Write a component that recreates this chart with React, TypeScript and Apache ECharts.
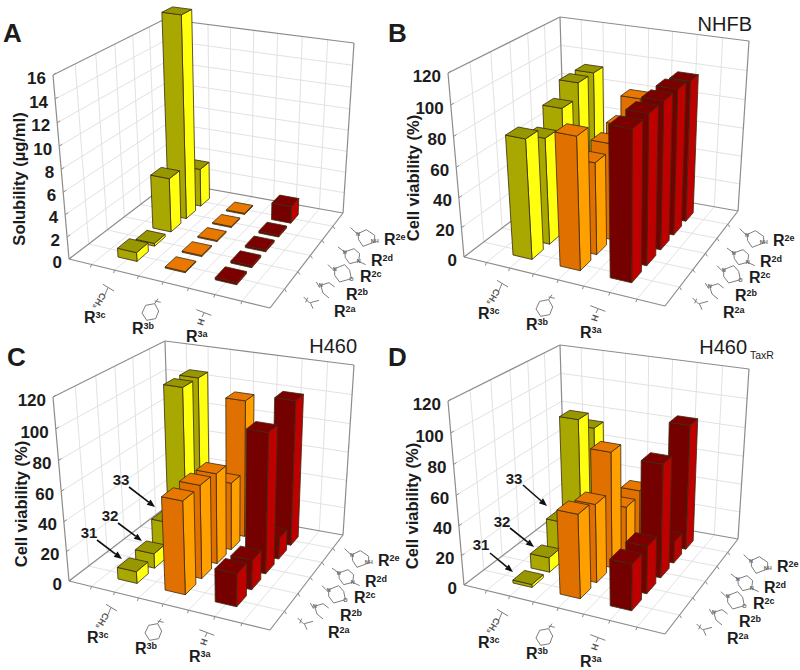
import React, { useEffect, useRef } from "react";
import * as echarts from "echarts";

const r2Categories = ["a", "b", "c", "d", "e"];
const r3Categories = ["3c", "3b", "3a"];
const solubilityTicks = [0, 2, 4, 6, 8, 10, 12, 14, 16];
const viabilityTicks = [0, 20, 40, 60, 80, 100, 120];

const solubilityR3c = [0.8, 0.25, 5, 18.7, 3.6];
const solubilityR3b = [0.1, 0.1, 0.1, 0.1, 0.1];
const solubilityR3a = [0.2, 0.2, 0.2, 0.2, 1.6];

const nhfbR3c = [80, 72, 84, 94, 94];
const nhfbR3b = [88, 62, 66, 70, 81];
const nhfbR3a = [99, 100, 100, 100, 98];

const h460R3c = [8, 10, 22, 107, 107];
const h460R3b = [62, 63, 62, 47, 96];
const h460R3a = [22, 20, 95, 15, 101];

const taxrR3c = [2, 10, 25, 88, 75];
const taxrR3b = [56, 53, 79, 33, 36];
const taxrR3a = [31, 32, 77, 15, 87];

type P = [number, number];
const FONT = "Liberation Sans";
const PALETTE = [
  { front: "#A8A800", side: "#FFFF10", top: "#979700" },
  { front: "#E07000", side: "#FF9F00", top: "#E87800" },
  { front: "#750000", side: "#BE0000", top: "#7C0000" },
];

function homography(p0: P, p1: P, p2: P, p3: P) {
  const sx = p0[0] - p1[0] + p2[0] - p3[0];
  const sy = p0[1] - p1[1] + p2[1] - p3[1];
  const dx1 = p1[0] - p2[0], dx2 = p3[0] - p2[0];
  const dy1 = p1[1] - p2[1], dy2 = p3[1] - p2[1];
  const den = dx1 * dy2 - dx2 * dy1;
  const g = (sx * dy2 - dx2 * sy) / den;
  const h = (dx1 * sy - sx * dy1) / den;
  const a = p1[0] - p0[0] + g * p1[0], b = p3[0] - p0[0] + h * p3[0], c = p0[0];
  const d = p1[1] - p0[1] + g * p1[1], e = p3[1] - p0[1] + h * p3[1], f = p0[1];
  return (u: number, v: number): P => {
    const w = g * u + h * v + 1;
    return [(a * u + b * v + c) / w, (d * u + e * v + f) / w];
  };
}

const floorQuad: P[] = [[69, 259], [270, 308], [343, 213], [170, 182]];
const topQuad: P[] = [[53, 75], [275, 115], [354, 43], [165, 19]];
const U_MAX = 4, V_MAX = 6;

function makeProjector(ox: number, oy: number, yMax: number) {
  const shift = (q: P[]) => q.map((p) => [p[0] + ox, p[1] + oy] as P);
  const f = shift(floorQuad), t = shift(topQuad);
  const hf = homography(f[0], f[1], f[2], f[3]);
  const ht = homography(t[0], t[1], t[2], t[3]);
  const k = 0.95;
  return (u: number, v: number, y: number): P => {
    const a = hf(u / U_MAX, v / V_MAX), b = ht(u / U_MAX, v / V_MAX);
    const r = y / yMax;
    const s = (r * k) / (1 + (k - 1) * r);
    return [a[0] + (b[0] - a[0]) * s, a[1] + (b[1] - a[1]) * s];
  };
}

const GRID = "#e2e2e2", FRAME = "#8c8c8c";

function frameSeries(pr: ReturnType<typeof makeProjector>, ticks: number[]) {
  const yMax = ticks[ticks.length - 1];
  const ln = (a: P, b: P, stroke: string, w: number) => ({
    type: "line",
    shape: { x1: a[0], y1: a[1], x2: b[0], y2: b[1] },
    style: { stroke, lineWidth: w },
    silent: true,
  });
  return {
    type: "custom",
    coordinateSystem: "none",
    silent: true,
    data: [[0]],
    renderItem: () => {
      const ch: any[] = [];
      ticks.forEach((y) => {
        if (y === 0 || y === yMax) return;
        ch.push(ln(pr(0, 0, y), pr(0, V_MAX, y), GRID, 1));
        ch.push(ln(pr(0, V_MAX, y), pr(U_MAX, V_MAX, y), GRID, 1));
      });
      for (let v = 1; v < V_MAX; v++) {
        ch.push(ln(pr(0, v, 0), pr(0, v, yMax), GRID, 1));
        ch.push(ln(pr(0, v, 0), pr(U_MAX, v, 0), GRID, 1));
        const a = pr(U_MAX, v, 0);
        ch.push(ln(a, [a[0] + 2, a[1] + 3], FRAME, 1));
      }
      for (let u = 0.5; u < U_MAX; u += 0.5) {
        ch.push(ln(pr(u, V_MAX, 0), pr(u, V_MAX, yMax), GRID, 1));
        ch.push(ln(pr(u, 0, 0), pr(u, V_MAX, 0), GRID, 1));
        const a = pr(u, 0, 0);
        ch.push(ln(a, [a[0] - 1, a[1] + 3], FRAME, 1));
      }
      ticks.forEach((y) => {
        const a = pr(0, 0, y);
        ch.push(ln(a, [a[0] + 3, a[1] - 2], FRAME, 1));
      });
      const edges: [number, number, number, number, number, number][] = [
        [0, 0, 0, U_MAX, 0, 0],
        [U_MAX, 0, 0, U_MAX, V_MAX, 0],
        [U_MAX, V_MAX, 0, 0, V_MAX, 0],
        [0, V_MAX, 0, 0, 0, 0],
        [0, 0, 0, 0, 0, yMax],
        [0, V_MAX, 0, 0, V_MAX, yMax],
        [U_MAX, V_MAX, 0, U_MAX, V_MAX, yMax],
        [0, 0, yMax, 0, V_MAX, yMax],
        [0, V_MAX, yMax, U_MAX, V_MAX, yMax],
      ];
      edges.forEach((e) => ch.push(ln(pr(e[0], e[1], e[2]), pr(e[3], e[4], e[5]), FRAME, 1.2)));
      return { type: "group", children: ch };
    },
  };
}

function barSeries(pr: ReturnType<typeof makeProjector>, rows: number[][]) {
  const data: number[][] = [];
  rows.forEach((row, i) => {
    for (let j = row.length - 1; j >= 0; j--) data.push([i + 1, j + 1, row[j], i]);
  });
  const du = 0.205, dv = 0.32;
  return {
    type: "custom",
    coordinateSystem: "none",
    silent: true,
    data,
    renderItem: (_: any, api: any) => {
      const u = api.value(0), v = api.value(1), y = api.value(2);
      const c = PALETTE[api.value(3)];
      const poly = (pts: P[], fill: string) => ({
        type: "polygon",
        shape: { points: pts },
        style: { fill, stroke: "#3a2a10", lineWidth: 0.8 },
      });
      const u0 = u - du, u1 = u + du, v0 = v - dv, v1 = v + dv;
      return {
        type: "group",
        children: [
          poly([pr(u1, v0, 0), pr(u1, v1, 0), pr(u1, v1, y), pr(u1, v0, y)], c.side),
          poly([pr(u0, v0, 0), pr(u1, v0, 0), pr(u1, v0, y), pr(u0, v0, y)], c.front),
          poly([pr(u0, v0, y), pr(u1, v0, y), pr(u1, v1, y), pr(u0, v1, y)], c.top),
        ],
      };
    },
  };
}

const INK = "#1c1c1c", BOND = "#7d7d7d";
const txt = (text: string, x: number, y: number, fontSize: number, extra: any = {}) => ({
  type: "text",
  x,
  y,
  z: 20,
  silent: true,
  rotation: extra.rotation || 0,
  style: {
    text,
    fontFamily: FONT,
    fontSize,
    fontWeight: extra.fontWeight || "bold",
    fill: extra.fill || INK,
    textAlign: extra.align || "left",
    textVerticalAlign: "middle",
    verticalAlign: "middle",
    rich: extra.rich,
  },
});
const bond = (pts: number[][], ox: number, oy: number) => ({
  type: "polyline",
  z: 15,
  silent: true,
  shape: { points: pts.map((p) => [ox + p[0] / 3, oy + p[1] / 3]) },
  style: { stroke: BOND, lineWidth: 1, fill: "none" },
});
const labelRich = {
  r: { fontFamily: FONT, fontSize: 16, fontWeight: "bold", fill: INK, lineHeight: 15, verticalAlign: "bottom" },
  s: { fontFamily: FONT, fontSize: 9, fontWeight: "bold", fill: INK, lineHeight: 15, verticalAlign: "top" },
};

function r2Labels(ax: number, ay: number) {
  const offs: P[] = [[0, 0], [12, -17], [26, -35], [37, -51], [50, -72]];
  const out: any[] = [];
  r2Categories.forEach((c, i) => {
    out.push(txt(`{r|R}{s|2${c}}`, ax + offs[i][0], ay + offs[i][1], 16, { rich: labelRich }));
  });
  // structures, coordinates in 3x crop pixels relative to the R2a label
  const s = (pts: number[][]) => bond(pts.map((p) => [p[0] - 118, p[1] - 285]), ax, ay);
  const tiny = (t: string, x: number, y: number) =>
    txt(t, ax + (x - 118) / 3, ay + (y - 285) / 3, 5.5, { fill: "#666", align: "center" });
  out.push(
    s([[27, 240], [45, 258]]), s([[33, 256], [39, 242]]),
    s([[47, 257], [73, 250]]), s([[47, 257], [55, 275]]),
    s([[65, 195], [75, 212]]), s([[78, 205], [103, 197], [120, 210]]), s([[78, 205], [85, 228], [103, 243]]),
    s([[100, 143], [115, 158]]), s([[120, 155], [150, 143], [165, 160], [170, 185], [135, 195], [120, 175], [120, 155]]),
    s([[130, 90], [150, 105]]), s([[150, 105], [178, 95], [195, 110], [192, 133], [165, 140], [152, 122], [150, 105]]), s([[192, 133], [213, 143]]),
    s([[168, 32], [187, 50]]), s([[190, 50], [215, 38], [240, 55], [240, 75], [205, 88], [192, 68], [190, 50]]),
    tiny("N", 78, 205), tiny("N", 120, 157), tiny("O", 170, 185), tiny("N", 150, 105), tiny("N", 192, 133), tiny("N", 190, 50), tiny("NH", 240, 73)
  );
  return out;
}

function r3Labels(ax: number, ay: number) {
  const offs: P[] = [[0, 0], [48, 11], [102, 19]];
  const out: any[] = [];
  r3Categories.forEach((c, i) => {
    out.push(txt(`{r|R}{s|${c}}`, ax + offs[i][0], ay + offs[i][1], 16, { rich: labelRich }));
  });
  const s = (pts: number[][]) => bond(pts.map((p) => [p[0] - 28, p[1] - 143]), ax, ay);
  const hex: number[][] = [[240, 100], [252, 122], [243, 145], [216, 150], [202, 128], [213, 105], [240, 100]];
  out.push(
    s([[85, 42], [118, 62]]), s([[100, 52], [90, 75]]),
    s(hex), s([[240, 100], [250, 85]]), s([[240, 92], [258, 96]]),
    s([[365, 118], [410, 135]]), s([[388, 128], [382, 140]]),
    txt("CH₃", ax + (74 - 28) / 3, ay + (92 - 143) / 3, 9, { fill: "#555", align: "center", rotation: -2.1 }),
    txt("H", ax + (378 - 28) / 3, ay + (155 - 143) / 3, 9, { fill: "#555", align: "center", rotation: -1.9 })
  );
  return out;
}

function yTickLabels(pr: ReturnType<typeof makeProjector>, ticks: number[]) {
  return ticks.map((t) => {
    const p = pr(0, 0, t);
    return txt(String(t), p[0] - 7, p[1] + 3, 17, { align: "right" });
  });
}

function arrow(x1: number, y1: number, x2: number, y2: number) {
  const a = Math.atan2(y2 - y1, x2 - x1), L = 8, W = 3.2;
  const bx = x2 - L * Math.cos(a), by = y2 - L * Math.sin(a);
  return [
    { type: "line", z: 18, silent: true, shape: { x1, y1, x2: bx, y2: by }, style: { stroke: "#111", lineWidth: 1.6 } },
    {
      type: "polygon", z: 18, silent: true,
      shape: { points: [[x2, y2], [bx - W * Math.sin(a), by + W * Math.cos(a)], [bx + W * Math.sin(a), by - W * Math.cos(a)]] },
      style: { fill: "#111" },
    },
  ];
}

const prA = makeProjector(0, 0, 16);
const prB = makeProjector(395, -2, 120);
const prC = makeProjector(0, 322, 120);
const prD = makeProjector(395, 326, 120);

const graphicElements: any[] = [
  txt("A", 3, 33, 26),
  txt("B", 388, 33, 26),
  txt("C", 7, 357, 26),
  txt("D", 388, 357, 26),
  txt("NHFB", 752, 24, 20, { fontWeight: "normal", align: "right" }),
  txt("H460", 357, 346, 20, { fontWeight: "normal", align: "right" }),
  txt("H460", 747, 347, 20, { fontWeight: "normal", align: "right" }),
  txt("TaxR", 750, 355, 10.5, { fontWeight: "normal" }),
  txt("Solubility (µg/ml)", 19, 179, 16.5, { rotation: Math.PI / 2, align: "center" }),
  txt("Cell viability (%)", 413, 178, 16.5, { rotation: Math.PI / 2, align: "center" }),
  txt("Cell viability (%)", 21, 504, 16.5, { rotation: Math.PI / 2, align: "center" }),
  txt("Cell viability (%)", 412, 506, 16.5, { rotation: Math.PI / 2, align: "center" }),
  ...yTickLabels(prA, solubilityTicks),
  ...yTickLabels(prB, viabilityTicks),
  ...yTickLabels(prC, viabilityTicks),
  ...yTickLabels(prD, viabilityTicks),
  ...r2Labels(334, 312),
  ...r2Labels(723, 313),
  ...r2Labels(328, 633),
  ...r2Labels(727, 639),
  ...r3Labels(84, 318),
  ...r3Labels(478, 314),
  ...r3Labels(87, 638),
  ...r3Labels(478, 643),
  txt("33", 121, 479, 15, { align: "center" }),
  txt("32", 110, 515, 15, { align: "center" }),
  txt("31", 89, 532, 15, { align: "center" }),
  ...arrow(129, 487, 155, 507),
  ...arrow(118, 523, 142, 541),
  ...arrow(97, 540, 122, 559),
  txt("33", 514, 478, 15, { align: "center" }),
  txt("32", 502, 521, 15, { align: "center" }),
  txt("31", 481, 544, 15, { align: "center" }),
  ...arrow(523, 485, 547, 506),
  ...arrow(510, 528, 534, 547),
  ...arrow(490, 553, 513, 572),
];

export default function App() {
  const ref = useRef<HTMLDivElement>(null);
  useEffect(() => {
    const chart = echarts.init(ref.current!, undefined, { renderer: "svg" });
    chart.setOption({
      animation: false,
      backgroundColor: "#ffffff",
      graphic: { elements: graphicElements },
      series: [
        frameSeries(prA, solubilityTicks),
        frameSeries(prB, viabilityTicks),
        frameSeries(prC, viabilityTicks),
        frameSeries(prD, viabilityTicks),
        barSeries(prA, [solubilityR3c, solubilityR3b, solubilityR3a]),
        barSeries(prB, [nhfbR3c, nhfbR3b, nhfbR3a]),
        barSeries(prC, [h460R3c, h460R3b, h460R3a]),
        barSeries(prD, [taxrR3c, taxrR3b, taxrR3a]),
      ],
    });
    return () => chart.dispose();
  }, []);
  return <div ref={ref} style={{ position: "absolute", left: 0, top: 0, width: 800, height: 670 }} />;
}
